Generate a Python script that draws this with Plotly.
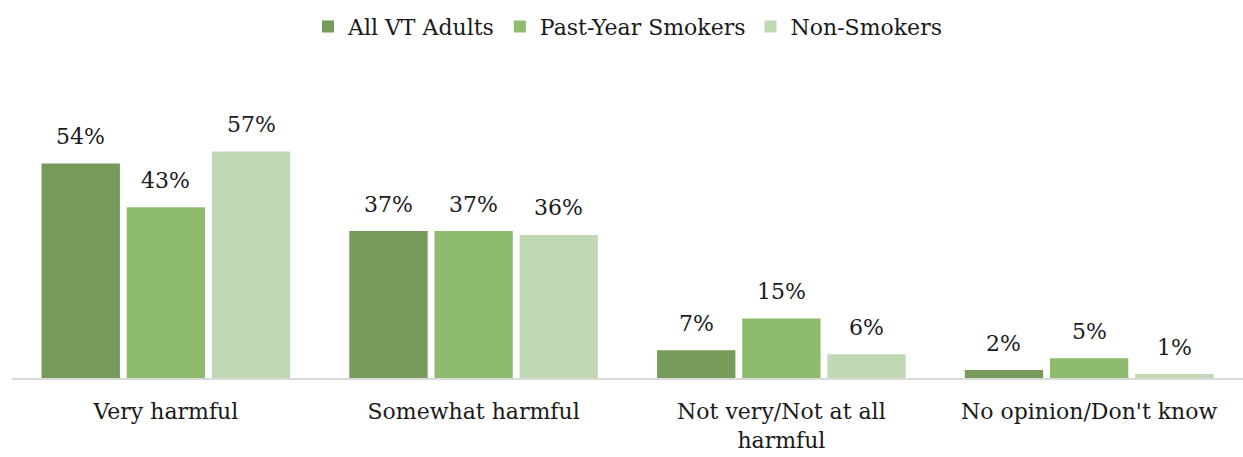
import plotly.graph_objects as go

categories = ["Very harmful", "Somewhat harmful", "Not very/Not at all<br>harmful", "No opinion/Don't know"]
all_adults = [54, 37, 7, 2]
past_year_smokers = [43, 37, 15, 5]
non_smokers = [57, 36, 6, 1]

series = [
    ("All VT Adults", all_adults, "#759a59"),
    ("Past-Year Smokers", past_year_smokers, "#8fbb6f"),
    ("Non-Smokers", non_smokers, "#c0d8b4"),
]

font_family = "DejaVu Serif"
text_color = "#1a1a1a"
font_size = 22
bargap = 0.17
slot = (1 - bargap) / len(series)

fig = go.Figure()
for i, (name, vals, color) in enumerate(series):
    fig.add_trace(go.Bar(
        x=list(range(len(categories))),
        y=vals,
        name=name,
        marker=dict(color=color, line=dict(width=0)),
    ))
    # value labels above each bar, placed at the bar's own data position
    offset = (i - (len(series) - 1) / 2) * slot
    for j, v in enumerate(vals):
        fig.add_annotation(
            x=j + offset, y=v, xref="x", yref="y",
            text=f"{v}%", showarrow=False,
            yanchor="middle", yshift=27,
            font=dict(family=font_family, size=font_size, color=text_color),
        )

fig.update_layout(
    width=1243,
    height=457,
    margin=dict(l=12, r=0, t=90, b=79),
    paper_bgcolor="white",
    plot_bgcolor="white",
    barmode="group",
    bargap=bargap,
    bargroupgap=0.08,
    font=dict(family=font_family, size=font_size, color=text_color),
    legend=dict(
        orientation="h",
        x=0.5,
        xanchor="center",
        y=1.22,
        yanchor="middle",
        font=dict(family=font_family, size=font_size, color=text_color),
        traceorder="normal",
    ),
    xaxis=dict(
        tickmode="array",
        tickvals=list(range(len(categories))),
        ticktext=categories,
        range=[-0.5, len(categories) - 0.5],
        showline=True,
        linecolor="#d9d9d9",
        linewidth=2,
        ticks="",
        showgrid=False,
        ticklabelstandoff=13,
        tickfont=dict(family=font_family, size=font_size, color=text_color),
    ),
    yaxis=dict(
        range=[0, 72.5],
        visible=False,
        showgrid=False,
        zeroline=False,
    ),
)

fig.write_html("out.html")
